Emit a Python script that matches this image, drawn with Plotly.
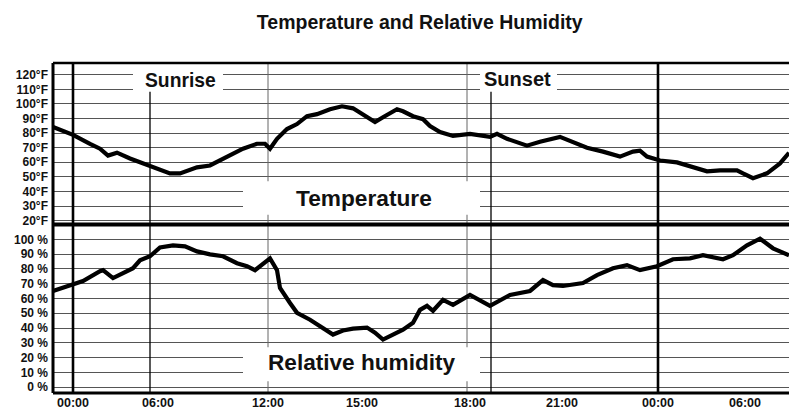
import plotly.graph_objects as go

# ---------------- data ----------------
# x is the position along the chart's time axis (chart units, 0 = left edge)
tick_pos = [20, 105, 215, 309, 417, 509, 605, 692]
tick_labels = ["00:00", "06:00", "12:00", "15:00", "18:00", "21:00", "00:00", "06:00"]

temp_pos = [0, 20, 37, 47, 55, 64, 77, 97, 117, 127, 144, 157, 174, 190, 204, 212,
            217, 224, 234, 244, 254, 264, 277, 289, 300, 312, 322, 330, 344, 350,
            360, 370, 377, 387, 400, 417, 437, 444, 454, 474, 487, 507, 517, 534,
            550, 567, 580, 587, 594, 607, 624, 637, 654, 667, 684, 690, 700, 714,
            727, 736]
temp_f = [84.2, 78.8, 72.7, 69.3, 64.6, 66.6, 62.6, 57.2, 52.4, 52.4, 56.5, 57.8,
          63.9, 69.3, 72.7, 72.7, 69.3, 76.1, 82.8, 86.2, 91.6, 93.0, 96.4, 98.4,
          97.0, 91.6, 87.6, 90.9, 96.4, 95.0, 91.6, 89.6, 84.9, 80.8, 78.1, 79.5,
          77.4, 79.5, 76.1, 71.4, 74.1, 77.4, 74.7, 70.0, 67.3, 63.9, 67.3, 68.0,
          63.9, 61.2, 59.9, 57.2, 53.8, 54.5, 54.5, 52.4, 49.1, 52.4, 59.2, 66.5]

hum_pos = [0, 20, 30, 47, 50, 60, 70, 80, 87, 97, 107, 120, 132, 144, 157, 170,
           184, 194, 202, 210, 217, 224, 227, 237, 244, 257, 264, 274, 280, 290,
           300, 314, 322, 330, 340, 350, 360, 367, 374, 380, 390, 400, 417, 437,
           457, 477, 490, 500, 510, 530, 544, 560, 574, 587, 604, 620, 637, 650,
           670, 680, 694, 707, 720, 736]
hum_pct = [65.1, 69.1, 71.8, 78.5, 79.2, 73.8, 77.2, 80.5, 85.9, 88.6, 94.6, 96.0,
           95.3, 91.9, 89.9, 88.6, 83.9, 81.9, 79.2, 83.9, 87.2, 79.2, 67.1, 57.0,
           50.3, 45.6, 42.3, 38.3, 35.6, 38.3, 39.6, 40.3, 36.9, 32.2, 35.6, 38.9,
           43.6, 52.3, 55.0, 51.7, 59.1, 55.7, 62.4, 55.0, 62.4, 65.1, 72.5, 69.1,
           68.5, 70.5, 75.8, 80.5, 82.6, 79.2, 81.9, 86.6, 87.2, 89.3, 86.6, 89.3,
           96.0, 100.5, 94.0, 89.3]

temp_ticks = [20, 30, 40, 50, 60, 70, 80, 90, 100, 110, 120]
hum_ticks = [0, 10, 20, 30, 40, 50, 60, 70, 80, 90, 100]

sunrise_pos = 97
sunset_pos = 438
midnight_pos = [20, 605]
faint_pos = [215, 414]

# ---------------- figure ----------------
FONT = "Liberation Sans, Arial, Helvetica, sans-serif"
split = 0.5105

fig = go.Figure()
fig.add_trace(go.Scatter(x=temp_pos, y=temp_f, mode="lines", xaxis="x", yaxis="y",
                         line=dict(color="black", width=4.2), showlegend=False,
                         hoverinfo="skip"))
fig.add_trace(go.Scatter(x=hum_pos, y=hum_pct, mode="lines", xaxis="x", yaxis="y2",
                         line=dict(color="black", width=4.2), showlegend=False,
                         hoverinfo="skip"))

shapes = []
# white boxes behind the labels (cover gridlines)
boxes = [
    ("y", 80, 170, 108.5, 130),
    ("y", 427, 504, 108.5, 130),
    ("y", 190, 427, 24, 47),
    ("y2", 190, 427, 4, 27),
]
# vertical lines
for yr, lo, hi in [("y", 17, 130), ("y2", -5, 112)]:
    for p in midnight_pos:
        shapes.append(dict(type="line", xref="x", yref=yr, x0=p, x1=p, y0=lo, y1=hi,
                           line=dict(color="black", width=2.6), layer="between"))
    for p in faint_pos:
        shapes.append(dict(type="line", xref="x", yref=yr, x0=p, x1=p, y0=lo, y1=hi,
                           line=dict(color="#666", width=1), layer="between"))
    for p in [sunrise_pos, sunset_pos]:
        shapes.append(dict(type="line", xref="x", yref=yr, x0=p, x1=p,
                           y0=lo, y1=(108.5 if yr == "y" else hi),
                           line=dict(color="black", width=1.3), layer="between"))
for yr, x0, x1, y0, y1 in boxes:
    shapes.append(dict(type="rect", xref="x", yref=yr, x0=x0, x1=x1, y0=y0, y1=y1,
                       fillcolor="white", line=dict(width=0), layer="between"))
# frame
shapes += [
    dict(type="line", xref="paper", yref="paper", x0=0, x1=0, y0=0, y1=1,
         line=dict(color="black", width=3), layer="above"),
    dict(type="line", xref="paper", yref="paper", x0=0, x1=1, y0=1, y1=1,
         line=dict(color="black", width=2.5), layer="above"),
    dict(type="line", xref="paper", yref="paper", x0=0, x1=1, y0=split, y1=split,
         line=dict(color="black", width=4), layer="above"),
    dict(type="line", xref="paper", yref="paper", x0=0, x1=1, y0=0, y1=0,
         line=dict(color="black", width=3), layer="above"),
]

annotations = [
    dict(text="<b>Sunrise</b>", x=127, y=116, xref="x", yref="y", showarrow=False,
         font=dict(family=FONT, size=19.3, color="#111")),
    dict(text="<b>Sunset</b>", x=464, y=117.3, xref="x", yref="y", showarrow=False,
         font=dict(family=FONT, size=20, color="#111")),
    dict(text="<b>Temperature</b>", x=311, y=35.5, xref="x", yref="y", showarrow=False,
         font=dict(family=FONT, size=22.7, color="#111")),
    dict(text="<b>Relative humidity</b>", x=309, y=16.8, xref="x", yref="y2",
         showarrow=False, font=dict(family=FONT, size=22.6, color="#111")),
]

fig.update_layout(
    width=789, height=410,
    margin=dict(l=53, r=0, t=63, b=14),
    paper_bgcolor="white", plot_bgcolor="white",
    title=dict(text="<b>Temperature and Relative Humidity</b>", x=0.532, xanchor="center",
               y=0.946, yanchor="middle", font=dict(family=FONT, size=19.5, color="#111")),
    xaxis=dict(range=[0, 736], anchor="y2", tickvals=tick_pos, ticktext=tick_labels,
               showgrid=False, zeroline=False, showline=False, ticks="",
               tickfont=dict(family=FONT, size=12.5, color="#111", weight="bold")),
    yaxis=dict(domain=[split, 1], range=[17.3, 128.1], tickvals=temp_ticks,
               ticktext=[f"{v}°F" for v in temp_ticks], showgrid=True,
               gridcolor="#555", gridwidth=1, zeroline=False, showline=False, ticks="",
               ticklabelstandoff=4,
               tickfont=dict(family=FONT, size=12, color="#111", weight="bold")),
    yaxis2=dict(domain=[0, split], range=[-4.0, 110.1], tickvals=hum_ticks,
                ticktext=[f"{v} %" for v in hum_ticks], showgrid=True,
                gridcolor="#555", gridwidth=1, zeroline=False, showline=False, ticks="",
                ticklabelstandoff=4,
                tickfont=dict(family=FONT, size=12, color="#111", weight="bold")),
    shapes=shapes,
    annotations=annotations,
)

fig.write_html(
    "out.html",
    config={"displayModeBar": False},
    post_script="document.body.style.margin='0';document.body.style.padding='0';"
                "document.body.style.overflow='hidden';",
)
